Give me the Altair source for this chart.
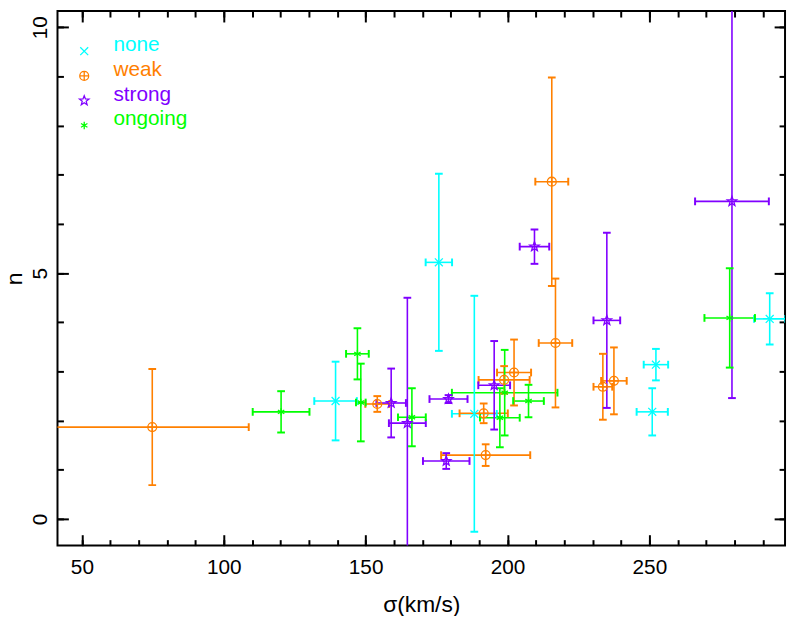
import altair as alt
import pandas as pd
import math

# ---------------- data ----------------
groups = ["none", "weak", "strong", "ongoing"]
colors = ["#00ffff", "#ff8000", "#8000ff", "#00ff00"]

none_sigma = [139.4, 175.8, 188.3, 252.3, 251.0, 292.4]
none_sigma_err = [7.5, 4.65, 7.9, 4.3, 5.5, 5.5]
none_n = [2.40, 5.22, 2.14, 3.14, 2.18, 4.07]
none_n_err = [0.80, 1.80, 2.40, 0.32, 0.48, 0.52]

weak_sigma = [74.8, 154.1, 191.6, 192.3, 215.6, 216.9, 202.3, 198.8, 233.6, 237.5]
weak_sigma_err = [34.0, 4.2, 8.5, 15.7, 5.8, 5.9, 6.0, 9.0, 3.3, 4.5]
weak_n = [1.87, 2.34, 2.15, 1.30, 6.86, 3.58, 2.98, 2.83, 2.69, 2.81]
weak_n_err = [1.18, 0.16, 0.20, 0.22, 2.12, 1.31, 0.67, 0.28, 0.67, 0.68]

strong_sigma = [159.0, 164.7, 179.2, 178.4, 209.5, 235.0, 279.1, 195.3]
strong_sigma_err = [5.2, 6.5, 6.7, 8.2, 5.2, 4.7, 13.0, 5.6]
strong_n = [2.36, 1.95, 2.44, 1.18, 5.54, 4.04, 6.46, 2.72]
strong_n_err = [0.70, 2.55, 0.08, 0.16, 0.35, 1.78, 4.0, 0.90]

ongoing_sigma = [120.2, 147.1, 148.3, 166.3, 199.0, 197.3, 207.4, 278.3]
ongoing_sigma_err = [10.0, 4.0, 1.7, 4.9, 18.6, 7.0, 5.4, 8.9]
ongoing_n = [2.18, 3.36, 2.37, 2.07, 2.57, 2.06, 2.40, 4.09]
ongoing_n_err = [0.42, 0.52, 0.79, 0.59, 0.87, 0.60, 0.33, 1.01]

x_major = [50, 100, 150, 200, 250]
x_minor = list(range(50, 300, 10))
y_major = [0, 5, 10]
y_minor = list(range(0, 11))

series = {
    "none": (none_sigma, none_sigma_err, none_n, none_n_err),
    "weak": (weak_sigma, weak_sigma_err, weak_n, weak_n_err),
    "strong": (strong_sigma, strong_sigma_err, strong_n, strong_n_err),
    "ongoing": (ongoing_sigma, ongoing_sigma_err, ongoing_n, ongoing_n_err),
}

rows = []
for g in groups:
    s, se, n, ne = series[g]
    for i in range(len(s)):
        rows.append(dict(group=g, sigma=s[i], xlo=s[i] - se[i], xhi=s[i] + se[i],
                         n=n[i], ylo=n[i] - ne[i], yhi=n[i] + ne[i]))
df = pd.DataFrame(rows)

# ---------------- marker shapes ----------------
def star_path(ro=1.0, ri=0.42):
    pts = []
    for k in range(10):
        r = ro if k % 2 == 0 else ri
        a = math.radians(-90 + 36 * k)
        pts.append(f"{r*math.cos(a):.3f},{r*math.sin(a):.3f}")
    return "M" + "L".join(pts) + "Z"

shapes = [
    "M-0.8,-0.8L0.8,0.8M-0.8,0.8L0.8,-0.8",
    "M0.9,0A0.9,0.9,0,1,1,-0.9,0A0.9,0.9,0,1,1,0.9,0ZM-0.9,0L0.9,0M0,-0.9L0,0.9",
    star_path(),
    "M0,-0.75L0,0.75M-0.65,-0.375L0.65,0.375M-0.65,0.375L0.65,-0.375",
]

FONT = "Liberation Sans"
xs = alt.Scale(domain=[41.4, 297.8], nice=False, zero=False)
ys = alt.Scale(domain=[-0.54, 10.33], nice=False, zero=False)
cs = alt.Scale(domain=groups, range=colors)

def axis(orient, values, size, labels=False, title="", **kw):
    return alt.Axis(orient=orient, values=values, tickSize=size, offset=-size,
                    domain=False, grid=False, labels=labels, title=title,
                    tickWidth=2, tickColor="black", labelFlush=False, **kw)

lab = dict(labelFont=FONT, labelFontSize=21, labelColor="black",
           titleFont=FONT, titleFontSize=23, titleFontWeight="normal", titleColor="black")

ax_bottom_major = axis("bottom", x_major, 11, labels=True, title="σ(km/s)",
                       labelPadding=11, titlePadding=17, **lab)
ax_bottom_minor = axis("bottom", x_minor, 6)
ax_top_major = axis("top", x_major, 11)
ax_top_minor = axis("top", x_minor, 6)
ax_left_major = axis("left", y_major, 11, labels=True, title="n", labelAngle=270,
                     labelAlign="center", labelBaseline="alphabetic", labelPadding=11,
                     titleAngle=270, titlePadding=3, **lab)
ax_left_minor = axis("left", y_minor, 6)
ax_right_major = axis("right", y_major, 11)
ax_right_minor = axis("right", y_minor, 6)

label_expr = ("datum.value === 'none' ? '%s' : datum.value === 'weak' ? '%s' : "
              "datum.value === 'strong' ? '%s' : '%s'") % tuple(colors)
leg = alt.Legend(orient="none", legendX=16.5, legendY=30, title=None, padding=0,
                 symbolSize=100, symbolStrokeWidth=1.3, symbolFillColor="transparent",
                 labelFont=FONT, labelFontSize=21, labelOffset=19,
                 labelBaseline="alphabetic", rowPadding=0,
                 labelColor={"expr": label_expr})

color_enc = alt.Color("group:N", scale=cs, legend=leg)
base = alt.Chart(df)

hbars = base.mark_rule(strokeWidth=1.6, clip=True).encode(
    x=alt.X("xlo:Q", scale=xs, axis=ax_bottom_major), x2="xhi:Q",
    y=alt.Y("n:Q", scale=ys, axis=ax_left_major), color=color_enc)

vbars = base.mark_rule(strokeWidth=1.6, clip=True).encode(
    x=alt.X("sigma:Q", scale=xs, axis=ax_bottom_minor),
    y=alt.Y("ylo:Q", scale=ys, axis=ax_left_minor), y2="yhi:Q", color=color_enc)

hcaps = base.transform_fold(["xlo", "xhi"], as_=["xend_key", "xend"]).mark_tick(
    orient="vertical", size=6, thickness=0.2, filled=False, strokeWidth=1.8,
    clip=True, opacity=1).encode(
    x=alt.X("xend:Q", scale=xs, axis=ax_top_major),
    y=alt.Y("n:Q", scale=ys, axis=ax_right_major), color=color_enc)

vcaps = base.transform_fold(["ylo", "yhi"], as_=["yend_key", "yend"]).mark_tick(
    orient="horizontal", size=6, thickness=0.2, filled=False, strokeWidth=1.8,
    clip=True, opacity=1).encode(
    x=alt.X("sigma:Q", scale=xs, axis=ax_top_minor),
    y=alt.Y("yend:Q", scale=ys, axis=ax_right_minor), color=color_enc)

points = base.mark_point(filled=False, size=100, strokeWidth=1.3, opacity=1, clip=True).encode(
    x=alt.X("sigma:Q", scale=xs, axis=None),
    y=alt.Y("n:Q", scale=ys, axis=None),
    color=color_enc,
    shape=alt.Shape("group:N", scale=alt.Scale(domain=groups, range=shapes), legend=leg),
)

chart = alt.layer(hbars, vbars, hcaps, vcaps, points).resolve_axis(
    x="independent", y="independent"
).properties(
    width=735, height=540,
    autosize=alt.AutoSizeParams(type="none"),
    padding={"left": 50, "top": 0, "right": 3, "bottom": 68},
).configure_view(stroke="black", strokeWidth=2)

chart.save("out.html", embed_options={"renderer": "svg", "actions": False})
